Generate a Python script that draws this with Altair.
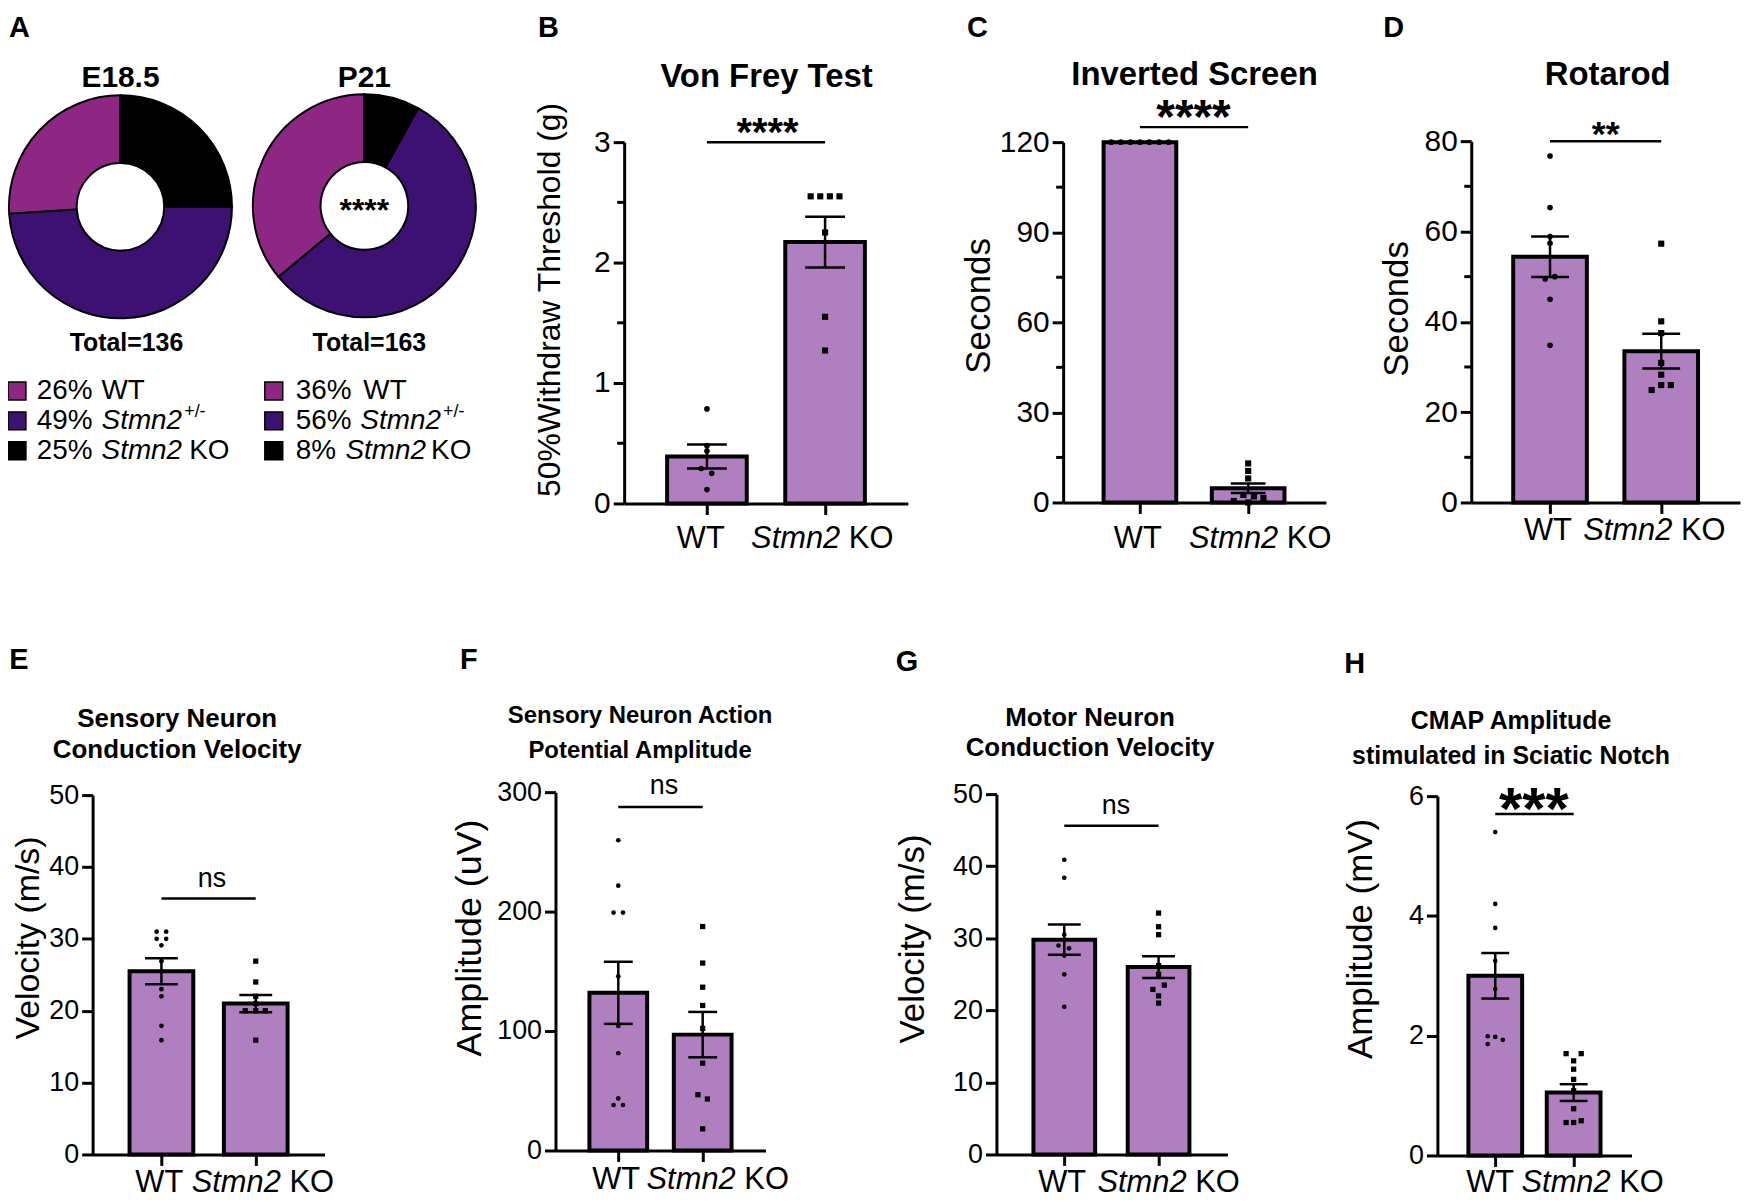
import altair as alt
import pandas as pd

FONT = "Liberation Sans"
OX = OY = 8          # page margin
W, H = 1741, 1195    # canvas size

def cx(v):
    return v - OX

def cy(v):
    return v - OY

# ---------------- DATA ----------------
geno = ["WT", "Stmn2+/-", "Stmn2 KO"]
e185_pct = [26, 49, 25]
p21_pct = [36, 56, 8]
e185_total = 136
p21_total = 163

# B  Von Frey
b_wt = [0.785, 0.48, 0.435, 0.29, 0.25, 0.115]
b_ko = [2.55, 2.55, 2.55, 2.55, 2.25, 1.55, 1.27]
b_mean = [0.39, 2.17]
b_sem = [0.10, 0.21]
# C  Inverted screen
c_wt = [120, 120, 120, 120, 120, 120, 120]
c_ko = [13.0, 10.5, 8.0, 2.5, 2.0, 1.5, 0.5, 0.0]
c_mean = [120, 4.75]
c_sem = [0, 1.6]
# D  Rotarod
d_wt = [76.7, 65.3, 58.9, 57.4, 50.0, 49.5, 45.0, 34.8]
d_ko = [57.3, 40.1, 37.5, 30.9, 28.3, 26.0, 26.0, 24.9]
d_mean = [54.4, 33.5]
d_sem = [4.5, 3.85]
# E  Sensory conduction velocity
e_wt = [31.0, 31.0, 30.0, 30.0, 29.1, 26.9, 23.0, 22.0, 17.9, 15.9]
e_ko = [26.9, 24.0, 22.0, 21.0, 20.0, 20.0, 20.0, 15.9]
e_mean = [25.5, 21.0]
e_sem = [1.8, 1.2]
# F  Sensory AP amplitude
f_wt = [259.7, 221.7, 199.2, 199.2, 145.8, 104.2, 81.4, 43.6, 38.1, 38.1]
f_ko = [187.5, 156.9, 136.7, 121.4, 102.2, 73.1, 46.7, 43.1, 18.1]
f_mean = [132, 97]
f_sem = [26, 19]
# G  Motor conduction velocity
g_wt = [40.9, 38.4, 30.5, 29.0, 28.6, 27.6, 25.0, 20.5]
g_ko = [33.5, 31.6, 30.5, 26.2, 25.0, 23.5, 22.9, 22.0, 21.0]
g_mean = [29.8, 26.0]
g_sem = [2.1, 1.5]
# H  CMAP amplitude
h_wt = [5.40, 4.20, 3.80, 3.25, 2.78, 1.99, 1.98, 1.93, 1.86]
h_ko = [1.70, 1.70, 1.58, 1.44, 1.27, 1.08, 0.78, 0.58, 0.55, 0.55]
h_mean = [3.0, 1.05]
h_sem = [0.38, 0.14]

# -------- horizontal scatter of the dots (pixels, layout only) --------
b_wt_jit = [0, 0, 0, -6, 5, 0]
b_ko_jit = [-15, -5, 5, 15, 0, 0, 0]
c_wt_jit = [-30, -20, -10, 0, 10, 20, 30]
c_ko_jit = [0, 0, 0, -5, 6, 16, -15, 0]
d_wt_jit = [0, 0, 0, 0, 5, -5, 0, 0]
d_ko_jit = [0, 0, 0, 0, 0, 0, 10, -10]
e_wt_jit = [-5, 5, -5, 5, 0, 0, 0, 0, 0, 0]
e_ko_jit = [0, 0, 0, 0, -11, 0, 10, 0]
f_wt_jit = [0, 0, -5, 5, 0, 0, 0, 0, -5, 5]
f_ko_jit = [0, 0, 0, 0, 0, 0, -5, 5, 0]
g_wt_jit = [0, 0, 0, -6, 5, 0, 0, 0]
g_ko_jit = [0, 0, 0, 0, 0, 6, -6, 0, 0]
h_wt_jit = [0, 0, 0, 0, 0, -8, 0, 8, -8]
h_ko_jit = [-8, 8, 0, 0, 0, 0, 0, 8, -8, 0]

# ---------------- STYLE ----------------
WTC = "#8E2783"
HETC = "#3C1172"
BAR = "#B07FBF"

# panel layout in page pixels
LAY = {
    "B": dict(x0=627, x1=912, yt=140, yb=503, c0=708, c1=831, bw=80, cap=40, ydom=[0, 3],
              major=[0, 1, 2, 3], minor=[0.5, 1.5, 2.5], lab=30,
              ytitle="50%Withdraw Threshold (g)", ytx=552, yty=298, yts=32, sig=3.0, ps=(32, 38)),
    "C": dict(x0=1068, x1=1332, yt=140, yb=502, c0=1143, c1=1256, bw=73, cap=35, ydom=[0, 120],
              major=[0, 30, 60, 90, 120], minor=[15, 45, 75, 105], lab=30,
              ytitle="Seconds", ytx=983, yty=304, yts=35, sig=125, ps=(32, 38)),
    "D": dict(x0=1478, x1=1748, yt=139, yb=502, c0=1555, c1=1671, bw=74, cap=38, ydom=[0, 80],
              major=[0, 20, 40, 60, 80], minor=[10, 30, 50, 70], lab=30,
              ytitle="Seconds", ytx=1403, yty=307, yts=35, sig=80, ps=(32, 38)),
    "E": dict(x0=93, x1=326, yt=796, yb=1157, c0=160, c1=259, bw=64, cap=33, ydom=[0, 50],
              major=[0, 10, 20, 30, 40, 50], minor=[], lab=27,
              ytitle="Velocity (m/s)", ytx=29, yty=939, yts=34, sig=35.6, ps=(22, 28)),
    "F": dict(x0=558, x1=769, yt=793, yb=1153, c0=619, c1=708, bw=58, cap=29, ydom=[0, 300],
              major=[0, 100, 200, 300], minor=[], lab=27,
              ytitle="Amplitude (uV)", ytx=472, yty=939, yts=36, sig=287.5, ps=(22, 28)),
    "G": dict(x0=1001, x1=1233, yt=795, yb=1157, c0=1067, c1=1166, bw=62, cap=33, ydom=[0, 50],
              major=[0, 10, 20, 30, 40, 50], minor=[], lab=27,
              ytitle="Velocity (m/s)", ytx=917, yty=940, yts=35, sig=45.6, ps=(22, 28)),
    "H": dict(x0=1444, x1=1639, yt=797, yb=1158, c0=1500, c1=1583, bw=54, cap=28, ydom=[0, 6],
              major=[0, 2, 4, 6], minor=[], lab=27,
              ytitle="Amplitude (mV)", ytx=1367, yty=940, yts=35, sig=5.7, ps=(22, 28)),
}

ONE = pd.DataFrame({"k": [0]})
texts = []


def T(s, x, y, size, bold=False, italic=False, align="center", baseline="middle", angle=None):
    kw = dict(text=s, fontSize=size, font=FONT, align=align, baseline=baseline, color="black")
    if bold:
        kw["fontWeight"] = "bold"
    if italic:
        kw["fontStyle"] = "italic"
    if angle is not None:
        kw["angle"] = angle
    texts.append(alt.Chart(ONE).mark_text(**kw).encode(x=alt.value(cx(x)), y=alt.value(cy(y))))


def ko_label(c, y, fs=31):
    w = 4.613 * fs
    left = c - w / 2
    T("Stmn2", left, y, fs, italic=True, align="left", baseline="alphabetic")
    T("KO", left + (2.89 + 0.278) * fs, y, fs, align="left", baseline="alphabetic")


def stars(s, x, yc, fs):
    T(s, x, yc + 0.58 * fs, fs, bold=True, baseline="alphabetic")


def panel(L, wt, ko, wt_jit, ko_jit, mean, sem):
    step = L["c1"] - L["c0"]
    d0 = (L["x0"] - L["c0"]) / step
    d1 = (L["x1"] - L["c0"]) / step
    xs = alt.Scale(domain=[d0, d1], range=[cx(L["x0"]), cx(L["x1"])], nice=False, zero=False)
    ys = alt.Scale(domain=L["ydom"], range=[cy(L["yb"]), cy(L["yt"])], nice=False, zero=False)
    xax = alt.Axis(orient="bottom", offset=cy(L["yb"]) - H, values=[0, 1], labels=False, title=None,
                   tickSize=11, tickWidth=3, domainWidth=3, grid=False)
    yax = alt.Axis(orient="left", offset=-cx(L["x0"]), values=L["major"], format="d",
                   tickSize=11, tickWidth=3, domainWidth=3, labelFontSize=L["lab"], labelPadding=3,
                   grid=False, title=L["ytitle"], titleFontSize=L["yts"], titleFontWeight="normal",
                   titleAngle=-90, titleAlign="center", titleBaseline="middle",
                   titleX=L["ytx"] - L["x0"], titleY=cy(L["yty"]))

    def X(f):
        return alt.X(f, scale=xs, axis=xax)

    def Y(f):
        return alt.Y(f, scale=ys, axis=yax)

    bdf = pd.DataFrame({"g": [0, 1], "mean": mean, "z": [0, 0],
                        "lo": [m - s for m, s in zip(mean, sem)],
                        "hi": [m + s for m, s in zip(mean, sem)]})
    wdf = pd.DataFrame({"x": [j / step for j in wt_jit], "v": wt})
    kdf = pd.DataFrame({"x": [1 + j / step for j in ko_jit], "v": ko})
    sdf = pd.DataFrame({"a": [0], "b": [1], "s": [L["sig"]]})

    layers = [
        alt.Chart(bdf).mark_bar(size=L["bw"], color=BAR, stroke="black", strokeWidth=4,
                                orient="vertical").encode(x=X("g:Q"), y=Y("mean:Q"), y2="z:Q"),
        alt.Chart(bdf).mark_rule(color="black", strokeWidth=2.5).encode(x=X("g:Q"), y=Y("lo:Q"), y2="hi:Q"),
        alt.Chart(bdf).mark_tick(orient="horizontal", size=L["cap"], thickness=2.5, color="black",
                                 opacity=1).encode(x=X("g:Q"), y=Y("lo:Q")),
        alt.Chart(bdf).mark_tick(orient="horizontal", size=L["cap"], thickness=2.5, color="black",
                                 opacity=1).encode(x=X("g:Q"), y=Y("hi:Q")),
        alt.Chart(wdf).mark_point(shape="circle", filled=True, size=L["ps"][0], color="black",
                                  opacity=1).encode(x=X("x:Q"), y=Y("v:Q")),
        alt.Chart(kdf).mark_square(size=L["ps"][1], color="black", opacity=1).encode(x=X("x:Q"), y=Y("v:Q")),
        alt.Chart(sdf).mark_rule(color="black", strokeWidth=2.5).encode(x=X("a:Q"), x2="b:Q", y=Y("s:Q")),
    ]
    if L["minor"]:
        mdf = pd.DataFrame({"m": L["minor"]})
        layers.append(alt.Chart(mdf).mark_rule(color="black", strokeWidth=3).encode(
            y=Y("m:Q"), x=alt.value(cx(L["x0"]) - 7), x2=alt.value(cx(L["x0"]))))
    return alt.layer(*layers)


def donut(pcts, cxp, cyp):
    df = pd.DataFrame({"geno": geno, "pct": pcts, "ord": [3, 2, 1]})
    return alt.Chart(df).mark_arc(radius=112, radius2=44, stroke="black", strokeWidth=2).encode(
        theta=alt.Theta("pct:Q", stack=True),
        order=alt.Order("ord:Q"),
        color=alt.Color("geno:N", scale=alt.Scale(domain=geno, range=[WTC, HETC, "black"]), legend=None),
        x=alt.value(cx(cxp)), y=alt.value(cy(cyp)))


def swatch(col, x, y):
    return alt.Chart(ONE).mark_square(size=324, color=col, stroke="black", strokeWidth=1.5,
                                      opacity=1).encode(x=alt.value(cx(x)), y=alt.value(cy(y)))


# ---------------- PANEL A ----------------
charts = [donut(e185_pct, 121, 205), donut(p21_pct, 366, 204)]
cols = [WTC, HETC, "black"]
rows = [390, 420, 450]
for i in range(3):
    charts.append(swatch(cols[i], 17, rows[i]))
    charts.append(swatch(cols[i], 275, rows[i]))

T("A", 9, 25, 29, bold=True, align="left")
T("E18.5", 121, 76, 30, bold=True)
T("P21", 366, 76, 30, bold=True)
T(f"Total={e185_total}", 127, 342, 25, bold=True)
T(f"Total={p21_total}", 371, 342, 25, bold=True)
stars("****", 366, 201, 32)

LF = 28
T(f"{e185_pct[0]}%", 37, rows[0], LF, align="left")
T("WT", 102, rows[0], LF, align="left")
T(f"{e185_pct[1]}%", 37, rows[1], LF, align="left")
T("Stmn2", 102, rows[1], LF, italic=True, align="left")
T("+/-", 185, 411, 18, align="left")
T(f"{e185_pct[2]}%", 37, rows[2], LF, align="left")
T("Stmn2", 102, rows[2], LF, italic=True, align="left")
T("KO", 190, rows[2], LF, align="left")

T(f"{p21_pct[0]}%", 297, rows[0], LF, align="left")
T("WT", 365, rows[0], LF, align="left")
T(f"{p21_pct[1]}%", 297, rows[1], LF, align="left")
T("Stmn2", 362, rows[1], LF, italic=True, align="left")
T("+/-", 445, 411, 18, align="left")
T(f"{p21_pct[2]}%", 297, rows[2], LF, align="left")
T("Stmn2", 347, rows[2], LF, italic=True, align="left")
T("KO", 433, rows[2], LF, align="left")

# ---------------- BAR PANELS ----------------
charts.append(panel(LAY["B"], b_wt, b_ko, b_wt_jit, b_ko_jit, b_mean, b_sem))
charts.append(panel(LAY["C"], c_wt, c_ko, c_wt_jit, c_ko_jit, c_mean, c_sem))
charts.append(panel(LAY["D"], d_wt, d_ko, d_wt_jit, d_ko_jit, d_mean, d_sem))
charts.append(panel(LAY["E"], e_wt, e_ko, e_wt_jit, e_ko_jit, e_mean, e_sem))
charts.append(panel(LAY["F"], f_wt, f_ko, f_wt_jit, f_ko_jit, f_mean, f_sem))
charts.append(panel(LAY["G"], g_wt, g_ko, g_wt_jit, g_ko_jit, g_mean, g_sem))
charts.append(panel(LAY["H"], h_wt, h_ko, h_wt_jit, h_ko_jit, h_mean, h_sem))

# panel letters
for s, x, y in [("B", 551, 25), ("C", 982, 25), ("D", 1400, 25), ("E", 19, 660),
                ("F", 471, 660), ("G", 911, 662), ("H", 1361, 664)]:
    T(s, x, y, 29, bold=True)

# titles
T("Von Frey Test", 770, 75, 33, bold=True)
T("Inverted Screen", 1200, 73, 33, bold=True)
T("Rotarod", 1615, 73, 33, bold=True)
T("Sensory Neuron", 178, 720, 26, bold=True)
T("Conduction Velocity", 178, 751, 26, bold=True)
T("Sensory Neuron Action", 643, 717, 24, bold=True)
T("Potential Amplitude", 643, 752, 24, bold=True)
T("Motor Neuron", 1095, 719, 26, bold=True)
T("Conduction Velocity", 1095, 749, 26, bold=True)
T("CMAP Amplitude", 1518, 722, 25, bold=True)
T("stimulated in Sciatic Notch", 1518, 757, 25, bold=True)

# x category labels
for wtx, kox, yb in [(704, 826, 548), (1143, 1266, 548), (1555, 1662, 540),
                     (160, 264, 1195), (619, 721, 1192), (1067, 1174, 1195), (1497, 1600, 1195)]:
    T("WT", wtx, yb, 31, baseline="alphabetic")
    ko_label(kox, yb)

# significance marks
stars("****", 771, 121, 40)
stars("****", 1199, 103, 48)
stars("**", 1613, 123, 36)
stars("***", 1541, 795, 60)
T("ns", 213, 888, 27, baseline="alphabetic")
T("ns", 667, 795, 27, baseline="alphabetic")
T("ns", 1121, 815, 27, baseline="alphabetic")

chart = alt.layer(*charts, *texts).resolve_scale(
    x="independent", y="independent", theta="independent", color="independent"
).resolve_axis(x="independent", y="independent").properties(
    width=W, height=H, autosize=alt.AutoSizeParams(type="none"), padding=0
).configure_axis(
    labelFont=FONT, titleFont=FONT, labelColor="black", titleColor="black",
    domainColor="black", tickColor="black", grid=False
).configure_view(strokeWidth=0)

chart.save("out.html", embed_options={"renderer": "svg", "actions": False})
